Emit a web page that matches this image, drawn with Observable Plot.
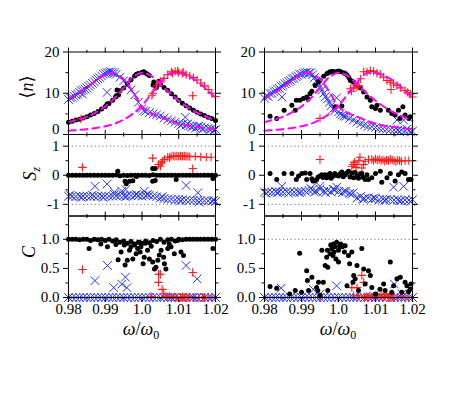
<!DOCTYPE html>
<html><head><meta charset="utf-8">
<script src="https://cdn.jsdelivr.net/npm/d3@7"></script>
<script src="https://cdn.jsdelivr.net/npm/@observablehq/plot@0.6"></script>
<style>
body{margin:0;background:#fff;}
#chart{position:relative;width:463px;height:398px;}
#chart svg{position:absolute;left:0;top:0;}
</style></head><body><div id="chart"></div>
<script>
// ---------- DATA ----------
const omega = [0.980,0.981,0.982,0.983,0.984,0.985,0.986,0.987,0.988,0.989,0.990,0.991,0.992,0.993,0.994,0.995,0.996,0.997,0.998,0.999,1.000,1.001,1.002,1.003,1.004,1.005,1.006,1.007,1.008,1.009,1.010,1.011,1.012,1.013,1.014,1.015,1.016,1.017,1.018,1.019,1.020];
const curveOmega = [0.98,0.9825,0.985,0.9875,0.99,0.9925,0.995,0.9975,1.0,1.0025,1.005,1.0075,1.01,1.0125,1.015,1.0175,1.02];
const curveBlue  = [8.7,10.0,11.4,13.1,14.6,14.9,13.4,10.4,6.8,5.2,4.3,3.4,2.6,2.1,1.8,1.5,1.3];
const curveBlack = [3.0,3.6,4.3,5.4,6.8,8.8,11.3,13.9,15.0,14.2,12.2,10.1,8.2,6.6,5.3,4.3,3.3];
const curveRed   = [0.9,1.1,1.3,1.6,2.0,2.6,3.6,5.0,7.0,9.8,12.6,14.8,14.9,14.2,12.9,11.0,8.9];

const xTicks = [0.98,0.99,1.0,1.01,1.02];
const xTickLabels = ["0.98","0.99","1.0","1.01","1.02"];
const xMinor = [0.985,0.995,1.005,1.015];
const nTicks = [0,10,20];  const nTickLabels = ["0","10","20"];  const nMinor = [5,15];
const sTicks = [-1,0,1];   const sTickLabels = ["-1","0","1"];   const sMinor = [-0.5,0.5];
const cTicks = [0,0.5,1];  const cTickLabels = ["0.0","0.5","1.0"]; const cMinor = [0.25,0.75,1.25];

// <n> left
const nBlackL = [3.0,3.2,3.5,3.7,4.0,4.3,4.7,5.1,5.6,6.2,6.8,7.5,8.3,9.4,10.6,11.3,12.3,13.3,14.2,14.8,15.1,14.9,14.3,12.0,11.6,12.2,11.4,10.7,9.9,9.1,8.3,7.6,7.0,6.4,5.9,5.4,5.0,4.6,4.2,3.9,3.4];
const nBlackLx = [[0.9905,7.4],[0.9932,10.8],[0.9936,9.6],[0.9928,9.1],[1.0032,12.7],[1.0038,11.3],[1.0046,12.9],[0.9985,14.6],[1.0015,14.6],[1.0005,15.2]];
const nBlueL = [8.5,9.0,9.6,10.2,10.8,11.3,12.0,12.8,13.5,14.2,14.8,15.1,15.0,14.6,13.9,13.0,11.9,10.8,9.6,7.8,6.3,5.6,5.3,5.0,4.8,4.5,4.0,3.6,3.3,3.0,2.7,2.5,2.3,2.1,2.0,1.9,1.8,1.6,1.5,1.4,1.2];
const nBlueLx = [[0.9805,8.9],[0.9815,9.3],[0.9825,9.8],[0.9835,10.6],[0.9845,11.0],[0.9855,11.7],[0.9865,12.4],[0.9875,13.2],[0.9885,13.8],[0.9895,14.6],[0.9905,15.0],[0.9915,15.2],[0.9925,14.9],[0.9838,9.8],[0.9905,10.2],[1.0118,4.2],[1.0005,5.8],[1.0105,2.2],[1.0135,1.8],[1.0155,2.0],[1.0165,1.3],[1.0185,1.2],[1.0195,1.0],[1.0145,1.5],[1.0125,2.6]];
const nRedL = [[1.003,10.0],[1.004,11.8],[1.005,12.8],[1.006,13.6],[1.007,14.5],[1.008,15.2],[1.009,15.3],[1.010,15.0],[1.011,14.8],[1.012,14.5],[1.013,14.2],[1.014,13.8],[1.015,13.2],[1.016,12.5],[1.017,11.8],[1.018,10.9],[1.019,10.0],[1.020,9.2],[0.9834,3.8],[1.0138,9.4],[1.0027,9.5],[1.0083,14.8],[1.0097,15.4],[1.0112,15.1]];

// <n> right
const nBlackR = [[0.9815,4.4],[0.9833,3.9],[0.9853,5.9],[0.9874,7.1],[0.9883,5.9],[0.9886,8.3],[0.9896,8.3],[0.9905,8.7],[0.9914,9.1],[0.9918,8.6],[0.9923,9.9],[0.9928,10.5],[0.9937,11.9],[0.9946,12.7],[0.995,13.1],[0.996,14.1],[0.9969,14.8],[0.9973,15.0],[0.9977,15.2],[0.9982,15.3],[0.9986,15.3],[0.9995,15.3],[1.0,15.4],[1.0005,15.3],[1.0014,15.0],[1.0018,14.8],[1.0023,14.4],[1.0028,13.8],[1.0032,13.1],[1.0036,13.0],[1.0041,12.7],[1.005,11.9],[1.0059,11.3],[1.0068,10.3],[1.0077,9.1],[1.0086,8.3],[1.009,6.7],[1.01,6.3],[1.0104,7.1],[1.0113,5.9],[1.0135,5.9],[1.0144,5.1],[1.0153,4.7],[1.0162,5.9],[1.0166,3.9],[1.0174,6.7],[1.018,4.7],[1.019,3.9],[1.0194,4.3],[0.9991,6.7],[1.0009,6.9]];
const nBlueR = [[0.980,8.8],[0.9805,9.4],[0.981,9.2],[0.9815,9.9],[0.982,10.0],[0.9825,10.4],[0.983,10.6],[0.9835,11.0],[0.984,11.2],[0.9845,11.7],[0.985,11.9],[0.9855,12.3],[0.986,12.5],[0.9865,12.9],[0.987,13.1],[0.9875,13.5],[0.988,13.6],[0.9885,14.0],[0.989,14.2],[0.9895,14.6],[0.990,14.6],[0.9905,14.9],[0.991,15.0],[0.9915,15.1],[0.992,14.9],[0.9925,15.0],[0.993,14.5],[0.9935,13.8],[0.994,13.0],[0.9945,12.4],[0.995,11.6],[0.9955,10.8],[0.996,10.0],[0.9965,9.2],[0.997,8.6],[0.9975,7.8],[0.998,7.0],[0.9985,6.2],[0.999,5.8],[0.9995,8.9],[1.000,5.5],[1.0005,5.0],[1.001,4.7],[1.0015,4.5],[1.002,4.4],[1.003,3.9],[1.004,3.5],[1.005,3.0],[1.006,2.6],[1.007,2.3],[1.008,2.0],[1.009,1.9],[1.010,1.7],[1.011,1.5],[1.012,1.4],[1.013,1.3],[1.014,1.2],[1.015,1.1],[1.0158,3.5],[1.016,1.0],[1.017,1.1],[1.0176,3.5],[1.018,0.9],[1.019,0.9],[1.020,0.8],[0.9847,9.1],[1.0165,0.7],[1.0185,1.3],[1.0195,0.6]];
const nRedR = [[0.995,3.9],[1.0032,11.1],[1.0041,11.3],[1.005,11.5],[1.0055,11.8],[1.006,13.5],[1.0068,15.2],[1.0077,15.2],[1.0086,15.5],[1.0095,15.3],[1.0104,14.9],[1.0113,14.6],[1.0122,13.9],[1.0131,13.1],[1.014,12.7],[1.0142,10.9],[1.0149,12.3],[1.0158,11.9],[1.0167,11.3],[1.018,10.7],[1.0187,10.2],[1.0194,9.8],[1.02,9.1],[1.0035,10.5],[1.0045,12.0]];

// Sz left
const sBlackL = [0,0,0,0,0,0,0,0,0,0,0,0,0,0.01,-0.02,0,-0.01,0,0,0,0,0,-0.01,0.02,0,0,0,0,0,0,0,0,0,0,0,0,0,0,0,0,0];
const sBlackLx = [[0.9934,0.14],[0.9954,-0.21],[0.9957,-0.29],[0.9966,-0.21],[0.9975,-0.19],[1.0029,0.23],[1.0036,0.23],[1.0029,-0.21],[1.0036,-0.18],[1.0093,-0.15],[1.0193,-0.11],[0.9985,-0.04]];
const sRedL = [[0.9838,0.27],[1.0029,0.59],[1.0045,0.37],[1.005,0.31],[1.0052,0.42],[1.0056,0.48],[1.0061,0.54],[1.007,0.62],[1.0075,0.6],[1.0079,0.65],[1.0085,0.66],[1.009,0.65],[1.0095,0.66],[1.01,0.65],[1.0105,0.66],[1.011,0.65],[1.0115,0.66],[1.012,0.65],[1.0125,0.65],[1.013,0.64],[1.0138,0.23],[1.0145,0.65],[1.016,0.63],[1.0175,0.62],[1.0188,0.62]];
const sBlueL = [-0.72,-0.72,-0.73,-0.72,-0.72,-0.72,-0.73,-0.72,-0.72,-0.72,-0.71,-0.72,-0.72,-0.71,-0.70,-0.70,-0.71,-0.70,-0.69,-0.70,-0.72,-0.70,-0.69,-0.71,-0.74,-0.78,-0.80,-0.82,-0.82,-0.84,-0.83,-0.84,-0.85,-0.86,-0.86,-0.87,-0.87,-0.88,-0.88,-0.89,-0.90];
const sBlueLx = [[0.9805,-0.68],[0.9835,-0.76],[0.9865,-0.68],[0.9895,-0.76],[0.9925,-0.66],[0.9955,-0.74],[0.9985,-0.66],[1.0015,-0.66],[1.0055,-0.74],[1.0105,-0.88],[1.0155,-0.92],[1.0195,-0.86],[0.9872,-0.38],[0.9905,-0.30],[0.9925,-0.58],[0.9945,-0.55],[0.9956,-0.49],[1.0006,-0.55],[1.012,-0.35],[1.0152,-0.60]];

// Sz right
const sBlackR = [[0.9815,0.06],[0.9833,-0.15],[0.9853,0.06],[0.9874,0.06],[0.9886,-0.15],[0.9892,-0.03],[0.9901,0.06],[0.991,0.08],[0.9914,-0.15],[0.9923,0.06],[0.9931,-0.2],[0.9937,-0.2],[0.9941,-0.15],[0.995,-0.03],[0.9955,0.02],[0.9964,0.02],[0.9968,-0.09],[0.9973,0.02],[0.9977,0.06],[0.9986,-0.03],[0.999,0.06],[1.0,-0.03],[1.0005,0.06],[1.0009,0.11],[1.0018,0.02],[1.0027,0.14],[1.0036,0.08],[1.0041,-0.09],[1.005,-0.03],[1.0059,0.05],[1.0066,-0.07],[1.0072,-0.15],[1.0081,-0.15],[1.009,-0.09],[1.01,0.06],[1.0113,0.14],[1.0117,-0.24],[1.0131,-0.09],[1.014,0.06],[1.0153,-0.2],[1.0162,0.02],[1.0171,0.11],[1.018,0.06],[1.0189,-0.15],[1.0196,-0.15],[0.9958,-0.08],[0.998,-0.1],[0.9995,0.0],[1.0013,-0.05],[1.0022,0.08],[1.0031,-0.06],[1.0045,0.1],[1.0054,-0.1],[1.0063,0.07],[0.9945,-0.06],[0.9928,-0.12],[1.0077,0.02]];
const sRedR = [[0.995,0.54],[1.0036,0.31],[1.004,0.37],[1.0043,0.45],[1.0047,0.27],[1.005,0.37],[1.0055,0.5],[1.0058,0.62],[1.0063,0.25],[1.0068,0.37],[1.0072,0.48],[1.0081,0.54],[1.009,0.54],[1.0095,0.5],[1.01,0.56],[1.0105,0.52],[1.011,0.55],[1.0115,0.5],[1.012,0.53],[1.0125,0.48],[1.013,0.52],[1.0135,0.5],[1.014,0.55],[1.0145,0.52],[1.015,0.5],[1.0155,0.47],[1.016,0.52],[1.0165,0.5],[1.017,0.48],[1.018,0.5],[1.019,0.5],[1.02,0.5]];
const sBlueR = [-0.58,-0.57,-0.58,-0.56,-0.57,-0.58,-0.56,-0.57,-0.58,-0.56,-0.57,-0.55,-0.52,-0.50,-0.55,-0.48,-0.55,-0.52,-0.58,-0.50,-0.56,-0.60,-0.55,-0.62,-0.60,-0.78,-0.72,-0.80,-0.78,-0.82,-0.80,-0.84,-0.82,-0.84,-0.83,-0.85,-0.84,-0.86,-0.85,-0.86,-0.84];
const sBlueRx = [[0.9847,-0.38],[0.995,-0.38],[0.9995,-0.41],[1.0149,-0.41],[1.0176,-0.38],[0.9805,-0.62],[0.9835,-0.6],[0.9865,-0.62],[0.9895,-0.6],[0.9925,-0.45],[0.9935,-0.58],[0.9965,-0.6],[0.9985,-0.48],[1.0015,-0.55],[1.0035,-0.65],[1.0065,-0.82],[1.0095,-0.78],[1.0125,-0.86],[1.0165,-0.88],[1.0195,-0.9]];

// C left
const cBlackL = [1.0,1.0,1.0,0.99,1.0,1.0,0.98,1.0,0.99,1.0,0.98,1.0,0.97,0.99,0.95,0.97,0.93,0.96,0.92,0.95,0.93,0.97,0.94,0.98,0.96,1.0,0.95,0.99,1.0,0.97,1.0,0.99,1.0,1.0,1.0,1.0,1.0,1.0,1.0,1.0,1.0];
const cBlackLx = [[0.9856,0.84],[0.9888,0.92],[0.9906,0.87],[0.9929,0.91],[0.9935,0.65],[0.9943,0.78],[0.9954,0.56],[0.996,0.64],[0.9966,0.81],[0.997,0.87],[0.9975,0.66],[0.998,0.9],[0.9984,0.75],[0.9988,0.84],[0.9993,0.95],[0.9997,0.87],[1.0003,0.58],[1.0006,0.69],[1.0015,0.81],[1.002,0.66],[1.0029,0.61],[1.0034,0.49],[1.0038,0.52],[1.0043,0.64],[1.0047,0.73],[1.0052,0.81],[1.0059,0.69],[1.0061,0.58],[1.0065,0.49],[1.007,0.84],[1.0074,0.92],[1.0079,0.87],[1.0088,0.75],[1.0097,0.98],[1.0106,0.78],[1.0113,0.72],[1.0193,0.84],[0.9995,0.78],[1.0025,0.88],[0.9952,0.9],[1.0009,0.93]];
const cBlueL = [0,0,0,0,0,0,0,0,0,0,0,0,0,0,0,0,0,0,0,0,0,0,0,0,0,0,0,0,0,0,0,0,0,0,0,0,0,0,0,0,0];
const cBlueLx = [[0.9872,0.29],[0.9906,0.55],[0.9923,0.17],[0.9945,0.23],[0.9955,0.35],[0.9959,0.17],[1.012,0.55],[1.015,0.32]];
const cRedL = [[0.9838,0.48],[1.0025,0.02],[1.0045,0.26],[1.005,0.4],[1.0055,0.14],[1.0059,0.06],[1.0045,0.4],[1.0065,0.02],[1.007,0.01],[1.0075,0.02],[1.008,0.0],[1.0085,0.01],[1.009,0.0],[1.0095,0.0],[1.0105,0.0],[1.011,0.01],[1.0115,0.0],[1.012,0.0],[1.0125,0.0],[1.013,0.01],[1.0138,0.43],[1.014,0.0],[1.0145,0.0],[1.0155,0.0],[1.0165,0.0],[1.017,0.0],[1.018,0.0],[1.019,0.0],[1.02,0.0]];

// C right
const cBlackR = [[0.9815,0.19],[0.9833,0.16],[0.9868,0.06],[0.9883,0.12],[0.9895,0.76],[0.99,0.09],[0.9914,0.46],[0.9916,0.29],[0.9919,0.12],[0.9928,0.35],[0.9941,0.17],[0.9944,0.12],[0.9946,0.26],[0.995,0.04],[0.9955,0.81],[0.9959,0.26],[0.9964,0.55],[0.9968,0.69],[0.997,0.81],[0.9971,0.52],[0.9971,0.12],[0.9977,0.75],[0.9979,0.9],[0.9982,0.84],[0.9985,0.72],[0.9986,0.92],[0.9988,0.78],[0.999,0.87],[0.9993,0.66],[0.9995,0.95],[1.0,0.81],[1.0,0.61],[1.0003,0.88],[1.0006,0.92],[1.001,0.87],[1.0014,0.89],[1.0016,0.78],[1.0018,0.89],[1.0023,0.2],[1.0027,0.72],[1.003,0.58],[1.0036,0.78],[1.0039,0.26],[1.0041,0.38],[1.0045,0.32],[1.005,0.55],[1.0054,0.12],[1.0063,0.84],[1.0068,0.49],[1.0072,0.23],[1.0081,0.46],[1.0086,0.38],[1.009,0.17],[1.01,0.06],[1.0112,0.14],[1.0122,0.23],[1.0126,0.12],[1.014,0.61],[1.0144,0.09],[1.0149,0.2],[1.0158,0.32],[1.0167,0.35],[1.0171,0.09],[1.018,0.26],[1.0185,0.2],[1.0189,0.1],[1.0194,0.14],[1.0196,0.23]];
const cBlueR = [0,0,0,0,0,0,0,0,0,0,0,0,0,0,0,0,0,0,0,0,0,0,0,0,0,0,0,0,0,0,0,0,0,0,0,0,0,0,0,0,0];
const cBlueRx = [[0.9845,0.16],[0.9932,0.14],[0.995,0.06],[0.9995,0.2],[1.0151,0.23],[1.0172,0.06]];
const cRedR = [[0.995,0.0],[1.0036,0.17],[1.0041,0.03],[1.005,0.17],[1.0054,0.03],[1.0063,0.38],[1.0068,0.26],[1.007,0.0],[1.0075,0.02],[1.008,0.0],[1.0085,0.03],[1.009,0.0],[1.0095,0.02],[1.01,0.0],[1.0105,0.03],[1.011,0.0],[1.0115,0.05],[1.012,0.0],[1.0125,0.02],[1.013,0.06],[1.0135,0.0],[1.014,0.03],[1.0145,0.0],[1.015,0.0],[1.016,0.0],[1.017,0.02],[1.018,0.0],[1.019,0.0],[1.02,0.0]];

// ---------- DRAWING ----------
const W = 463, H = 398;
const cols = [{l: 68, r: 215}, {l: 264, r: 412}];
const rows = [{t: 51.5, b: 134}, {t: 134, b: 215.5}, {t: 215.5, b: 297}];
const BLUE = "#2233ff", RED = "#ff1a1a", MAG = "#ff00ff";
const FONT = "'Liberation Serif','DejaVu Serif','Times New Roman',serif";

const grid = arr => omega.map((x, i) => ({x, y: arr[i]})).filter(d => d.y != null);
const pairs = arr => arr.map(([x, y]) => ({x, y}));
const curve = arr => curveOmega.map((x, i) => ({x, y: arr[i]}));

const blackDots = d => Plot.dot(d, {x: "x", y: "y", r: 2.5, fill: "#000", stroke: "none"});
const blueX = d => Plot.dot(d, {x: "x", y: "y", symbol: "times", r: 4, stroke: BLUE, strokeWidth: 1});
const redPlus = d => Plot.dot(d, {x: "x", y: "y", symbol: "plus", r: 2.8, stroke: RED, strokeWidth: 1.1});
const dashed = d => Plot.line(d, {x: "x", y: "y", stroke: MAG, strokeWidth: 2, strokeDasharray: "7,5", curve: "catmull-rom"});
const fmt = (ticks, labels) => v => labels[ticks.indexOf(v)];

function panel(ci, ri, cfg) {
  const c = cols[ci], r = rows[ri];
  const marks = [];
  if (cfg.rules) marks.push(Plot.ruleY(cfg.rules, {stroke: "#777", strokeWidth: 1, strokeDasharray: "1.2,2.6"}));
  marks.push(...cfg.marks);
  marks.push(Plot.frame({stroke: "#000", strokeWidth: 1}));
  const lab = fmt(cfg.yTicks, cfg.yLabels);
  const raised = cfg.raiseZero ? [0] : [];
  // major ticks (label of a raised tick drawn separately)
  marks.push(Plot.axisY({anchor: "left", ticks: cfg.yTicks, tickSize: 5, tickPadding: 4,
    tickFormat: v => raised.includes(v) ? "" : lab(v), label: null}));
  if (raised.length) {
    marks.push(Plot.axisY({anchor: "left", ticks: raised, tickSize: 0, tickPadding: 9, tickFormat: lab, dy: -5, label: null}));
  }
  marks.push(Plot.axisY({anchor: "left", ticks: cfg.yMinor, tickSize: 2.5, tickFormat: () => "", label: null}));
  marks.push(Plot.axisY({anchor: "right", ticks: cfg.yTicks, tickSize: 5, tickFormat: () => "", label: null}));
  marks.push(Plot.axisY({anchor: "right", ticks: cfg.yMinor, tickSize: 2.5, tickFormat: () => "", label: null}));
  marks.push(Plot.axisX({anchor: "top", ticks: xTicks, tickSize: 5, tickFormat: () => "", label: null}));
  marks.push(Plot.axisX({anchor: "top", ticks: xMinor, tickSize: 2.5, tickFormat: () => "", label: null}));
  marks.push(Plot.axisX({anchor: "bottom", ticks: xTicks, tickSize: 5, tickPadding: 1,
    tickFormat: ri === 2 ? fmt(xTicks, xTickLabels) : () => "", label: null}));
  marks.push(Plot.axisX({anchor: "bottom", ticks: xMinor, tickSize: 2.5, tickFormat: () => "", label: null}));
  return Plot.plot({
    width: W, height: H,
    marginLeft: c.l, marginRight: W - c.r, marginTop: r.t, marginBottom: H - r.b,
    x: {domain: [0.98, 1.02], label: null},
    y: {domain: cfg.yDomain, label: null},
    style: {fontFamily: FONT, fontSize: "15px", background: "transparent", overflow: "visible", color: "#000"},
    marks
  });
}

const chart = document.getElementById("chart");
const nCfg = {yDomain: [0, 20], yTicks: nTicks, yLabels: nTickLabels, yMinor: nMinor, raiseZero: true};
const sCfg = {yDomain: [-1.4, 1.4], yTicks: sTicks, yLabels: sTickLabels, yMinor: sMinor, rules: [-1, 1]};
const cCfg = {yDomain: [0, 1.4], yTicks: cTicks, yLabels: cTickLabels, yMinor: cMinor, rules: [1]};

const panels = [
  panel(0, 0, {...nCfg, marks: [blueX(grid(nBlueL)), blueX(pairs(nBlueLx)), blackDots(grid(nBlackL)), blackDots(pairs(nBlackLx)), redPlus(pairs(nRedL)),
    dashed(curve(curveBlue)), dashed(curve(curveBlack)), dashed(curve(curveRed))]}),
  panel(1, 0, {...nCfg, marks: [blueX(pairs(nBlueR)), blackDots(pairs(nBlackR)), redPlus(pairs(nRedR)),
    dashed(curve(curveBlue)), dashed(curve(curveBlack)), dashed(curve(curveRed))]}),
  panel(0, 1, {...sCfg, marks: [blackDots(grid(sBlackL)), blackDots(pairs(sBlackLx)), redPlus(pairs(sRedL)), blueX(grid(sBlueL)), blueX(pairs(sBlueLx))]}),
  panel(1, 1, {...sCfg, marks: [blackDots(pairs(sBlackR)), redPlus(pairs(sRedR)), blueX(grid(sBlueR)), blueX(pairs(sBlueRx))]}),
  panel(0, 2, {...cCfg, marks: [blueX(grid(cBlueL)), blueX(pairs(cBlueLx)), blackDots(grid(cBlackL)), blackDots(pairs(cBlackLx)), redPlus(pairs(cRedL))]}),
  panel(1, 2, {...cCfg, marks: [blueX(grid(cBlueR)), blueX(pairs(cBlueRx)), redPlus(pairs(cRedR)), blackDots(pairs(cBlackR))]})
];
panels.forEach(p => chart.appendChild(p));

// axis titles
const svg = d3.select(chart).append("svg").attr("width", W).attr("height", H)
  .style("font-family", FONT).style("overflow", "visible");
function ylab(x, y, parts) {
  const t = svg.append("text").attr("transform", `translate(${x},${y}) rotate(-90)`)
    .attr("text-anchor", "middle").attr("font-size", 18).attr("fill", "#000");
  parts(t);
}
ylab(33, 87, t => { t.append("tspan").text("⟨"); t.append("tspan").attr("font-style", "italic").text("n"); t.append("tspan").text("⟩"); });
ylab(36, 174, t => { t.append("tspan").attr("font-style", "italic").text("S"); t.append("tspan").attr("font-style", "italic").attr("font-size", 12).attr("dy", 4).text("z"); });
ylab(35, 252, t => { t.append("tspan").attr("font-style", "italic").text("C"); });
function xlab(cx) {
  const t = svg.append("text").attr("x", cx).attr("y", 335).attr("text-anchor", "middle").attr("font-size", 18).attr("fill", "#000");
  t.append("tspan").attr("font-style", "italic").text("ω");
  t.append("tspan").text("/");
  t.append("tspan").attr("font-style", "italic").text("ω");
  t.append("tspan").attr("font-size", 12).attr("dy", 4).text("0");
}
xlab(141); xlab(338);
</script></body></html>
